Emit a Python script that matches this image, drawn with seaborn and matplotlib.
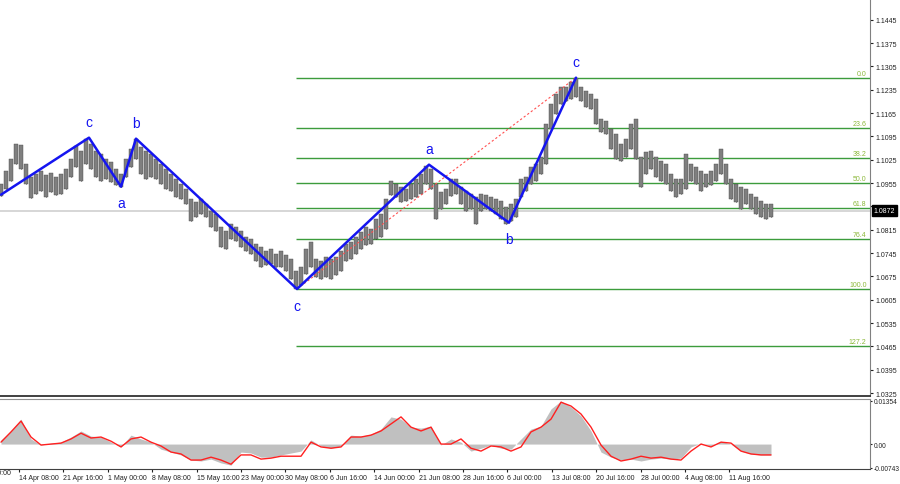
import numpy as np
import pandas as pd
import matplotlib
matplotlib.use('Agg')
import matplotlib.pyplot as plt
import matplotlib.transforms as mtransforms
import seaborn as sns

# price bars, one bar per ~5px column (high / low)
highs = [
    1.0952, 1.0991, 1.1027, 1.1072, 1.1069, 1.1012, 1.0973, 1.0982, 1.0991, 1.0979,
    1.0985, 1.0973, 1.0982, 1.0997, 1.1027, 1.1066, 1.1051, 1.1087, 1.1072, 1.1051,
    1.1042, 1.1027, 1.1018, 1.0997, 1.0982, 1.1027, 1.1057, 1.1087, 1.1063, 1.1051,
    1.1042, 1.1027, 1.1012, 1.0997, 1.0982, 1.0967, 1.0952, 1.0937, 1.0907, 1.0898,
    1.0907, 1.0892, 1.0871, 1.0862, 1.0823, 1.0811, 1.0832, 1.0823, 1.0811, 1.0793,
    1.0787, 1.0772, 1.0763, 1.0751, 1.0757, 1.0742, 1.0751, 1.0739, 1.0727, 1.0691,
    1.0703, 1.0757, 1.0778, 1.0727, 1.0721, 1.0733, 1.0727, 1.0733, 1.0751, 1.0772,
    1.0778, 1.0793, 1.0808, 1.0823, 1.0817, 1.0847, 1.0862, 1.0907, 1.0961, 1.0952,
    1.0943, 1.0937, 1.0952, 1.0967, 1.0982, 1.1006, 1.0997, 1.0952, 1.0928, 1.0937,
    1.0967, 1.0967, 1.0943, 1.0931, 1.0922, 1.0913, 1.0922, 1.0919, 1.0913, 1.0907,
    1.0901, 1.0883, 1.0892, 1.0907, 1.0967, 1.0973, 1.1003, 1.1012, 1.1033, 1.1132,
    1.1192, 1.1222, 1.1243, 1.1243, 1.1258, 1.1270, 1.1243, 1.1231, 1.1222, 1.1207,
    1.1147, 1.1141, 1.1117, 1.1102, 1.1072, 1.1087, 1.1132, 1.1147, 1.1033, 1.1048,
    1.1051, 1.1033, 1.1021, 1.1012, 1.0982, 1.0967, 1.0967, 1.1042, 1.1012, 1.1003,
    1.0991, 1.0982, 1.0991, 1.1012, 1.1057, 1.1012, 1.0967, 1.0952, 1.0943, 1.0937,
    1.0922, 1.0913, 1.0901, 1.0892, 1.0892]
lows = [
    1.0916, 1.0937, 1.0961, 1.1012, 1.0997, 1.0952, 1.0910, 1.0922, 1.0931, 1.0913,
    1.0928, 1.0919, 1.0922, 1.0937, 1.0973, 1.1003, 1.0961, 1.1012, 1.0997, 1.0973,
    1.0961, 1.0967, 1.0958, 1.0949, 1.0943, 1.0973, 1.1003, 1.1027, 1.0982, 1.0967,
    1.0973, 1.0967, 1.0952, 1.0937, 1.0931, 1.0913, 1.0907, 1.0892, 1.0841, 1.0853,
    1.0862, 1.0853, 1.0823, 1.0811, 1.0763, 1.0757, 1.0787, 1.0781, 1.0763, 1.0751,
    1.0742, 1.0721, 1.0703, 1.0709, 1.0712, 1.0703, 1.0703, 1.0691, 1.0667, 1.0637,
    1.0649, 1.0682, 1.0703, 1.0673, 1.0667, 1.0673, 1.0667, 1.0679, 1.0691, 1.0721,
    1.0727, 1.0742, 1.0757, 1.0769, 1.0772, 1.0787, 1.0793, 1.0817, 1.0919, 1.0913,
    1.0898, 1.0901, 1.0907, 1.0913, 1.0922, 1.0952, 1.0937, 1.0847, 1.0877, 1.0892,
    1.0916, 1.0922, 1.0892, 1.0871, 1.0877, 1.0832, 1.0871, 1.0877, 1.0871, 1.0862,
    1.0847, 1.0832, 1.0841, 1.0853, 1.0913, 1.0931, 1.0952, 1.0961, 1.0982, 1.1012,
    1.1117, 1.1162, 1.1192, 1.1201, 1.1207, 1.1213, 1.1201, 1.1183, 1.1177, 1.1132,
    1.1108, 1.1102, 1.1057, 1.1027, 1.1021, 1.1033, 1.1057, 1.1027, 1.0943, 1.0982,
    1.0997, 1.0973, 1.0961, 1.0952, 1.0931, 1.0913, 1.0922, 1.0937, 1.0961, 1.0952,
    1.0931, 1.0943, 1.0949, 1.0961, 1.0982, 1.0952, 1.0907, 1.0898, 1.0877, 1.0892,
    1.0877, 1.0862, 1.0853, 1.0847, 1.0853]

# MACD (histogram + signal), one value every second bar
macd_hist = [
    0.0013, 0.0041, 0.0078, 0.0016, -0.0003, 0.0003, 0.0006, 0.0022, 0.0041, 0.0025,
    0.0022, 0.0006, -0.0009, 0.0028, 0.0016, 0.0006, -0.0016, -0.0025, -0.0034, -0.0050,
    -0.0053, -0.0047, -0.0059, -0.0066, -0.0025, -0.0028, -0.0041, -0.0041, -0.0034, -0.0028,
    -0.0022, 0.0013, -0.0006, -0.0013, -0.0006, 0.0028, 0.0025, 0.0031, 0.0047, 0.0085,
    0.0078, 0.0053, 0.0050, 0.0056, -0.0003, 0.0016, 0.0006, -0.0022, -0.0013, -0.0003,
    -0.0013, -0.0016, 0.0016, 0.0047, 0.0056, 0.0110, 0.0135, 0.0116, 0.0088, 0.0041,
    -0.0025, -0.0041, -0.0050, -0.0047, -0.0053, -0.0047, -0.0044, -0.0047, -0.0044, -0.0009,
    0.0003, -0.0006, 0.0009, 0.0000, -0.0022, -0.0031, -0.0034, -0.0034]
macd_signal = [
    0.0006, 0.0038, 0.0072, 0.0022, -0.0003, 0.0000, 0.0003, 0.0016, 0.0034, 0.0019,
    0.0022, 0.0009, -0.0009, 0.0016, 0.0022, 0.0006, -0.0006, -0.0025, -0.0031, -0.0050,
    -0.0050, -0.0041, -0.0050, -0.0063, -0.0034, -0.0034, -0.0047, -0.0044, -0.0038, -0.0038,
    -0.0038, 0.0006, -0.0009, -0.0013, -0.0009, 0.0022, 0.0022, 0.0028, 0.0041, 0.0063,
    0.0085, 0.0053, 0.0041, 0.0053, 0.0000, 0.0000, 0.0016, -0.0013, -0.0022, -0.0006,
    -0.0009, -0.0022, -0.0009, 0.0038, 0.0053, 0.0078, 0.0131, 0.0119, 0.0094, 0.0053,
    -0.0003, -0.0038, -0.0053, -0.0047, -0.0038, -0.0044, -0.0041, -0.0047, -0.0050, -0.0022,
    0.0000, -0.0009, 0.0006, 0.0003, -0.0022, -0.0031, -0.0034, -0.0034]

# wave pivots (bar position, price) and their labels
wave_x = [0, 17.6, 24, 27, 59.2, 85.6, 101.6, 115]
wave_y = [1.0920, 1.1091, 1.0944, 1.1088, 1.0637, 1.1010, 1.0836, 1.1271]
wave_labels = ['', 'c', 'a', 'b', 'c', 'a', 'b', 'c']
wave_label_up = [True, True, False, True, False, True, False, True]

# fibonacci retracement of the last swing
fib_levels = [0.0, 23.6, 38.2, 50.0, 61.8, 76.4, 100.0, 127.2]
fib_high = 1.1271
fib_low = 1.0637
fib_start = 59

last_price = 1.0872
date_labels = ['7 Apr 00:00', '14 Apr 08:00', '21 Apr 16:00', '1 May 00:00', '8 May 08:00',
               '15 May 16:00', '23 May 00:00', '30 May 08:00', '6 Jun 16:00', '14 Jun 00:00',
               '21 Jun 08:00', '28 Jun 16:00', '6 Jul 00:00', '13 Jul 08:00', '20 Jul 16:00',
               '28 Jul 00:00', '4 Aug 08:00', '11 Aug 16:00']

sns.set_style('white')
plt.rcParams['font.family'] = ['Liberation Sans', 'DejaVu Sans']

fig = plt.figure(figsize=(9, 4.85), dpi=100)
ax = fig.add_axes([0, 1 - 397 / 485, 870 / 900, 397 / 485])
axm = fig.add_axes([0, 15 / 485, 870 / 900, 70 / 485])
blend = mtransforms.blended_transform_factory(ax.transAxes, ax.transData)

bars = pd.DataFrame({'bar': np.arange(len(highs)), 'high': highs, 'low': lows})

# current price line
ax.axhline(last_price, color='#d0d0d0', lw=1.2, zorder=1)

# fib levels
for lvl in fib_levels:
    p = fib_high - (fib_high - fib_low) * lvl / 100
    ax.hlines(p, fib_start, 200, color='#3c9c3c', lw=1.0, zorder=2)
    ax.text(0.996, p + 0.0003, f'{lvl:.1f}', transform=blend,
            ha='right', va='bottom', fontsize=5, color='#8cb83a', zorder=6)

# candles
ax.vlines(bars['bar'], bars['low'], bars['high'], color='#1e1e1e', lw=0.6, zorder=3)
ax.bar(bars['bar'], bars['high'] - bars['low'], bottom=bars['low'], width=0.62,
       color='#7f7f7f', edgecolor='#4a4a4a', linewidth=0.3, zorder=3)

# trend line of the fib tool
ax.plot([wave_x[4], wave_x[7]], [fib_low, fib_high], color='#ff5050', lw=0.8,
        linestyle=(0, (2, 2)), zorder=4)

# waves
waves = pd.DataFrame({'x': wave_x, 'y': wave_y})
sns.lineplot(data=waves, x='x', y='y', sort=False, estimator=None, color='#1515f0', lw=1.8, ax=ax, zorder=5)
for x, y, lab, up in zip(wave_x, wave_y, wave_labels, wave_label_up):
    if lab:
        ax.annotate(lab, (x, y), xytext=(0, 11 if up else -12), textcoords='offset points',
                    ha='center', va='center', fontsize=10, color='#1515f0')

ax.set_xlim(-0.2, 173.8)
ax.set_ylim(1.0316, 1.1507)
price_ticks = np.arange(1.0325, 1.1450, 0.007)
ax.yaxis.tick_right()
ax.set_yticks(price_ticks)
ax.set_yticklabels([f'{v:.4f}' for v in price_ticks])
ax.text(1.0, 1.1515, '- 1.1515', transform=blend,
        ha='left', va='center', fontsize=5, color='#222222', clip_on=False)
ax.tick_params(axis='y', labelsize=5, length=2, pad=2, colors='#222222', right=True, direction='out')
ax.set_xticks([])
ax.set_xlabel('')
ax.set_ylabel('')
for s in ['left', 'top']:
    ax.spines[s].set_visible(False)
ax.spines['right'].set_color('#808080')
ax.spines['bottom'].set_color('#202020')
ax.spines['bottom'].set_linewidth(1.2)

# last price box
ax.text(1.004, last_price, f'{last_price:.4f}', transform=blend,
        ha='left', va='center', fontsize=5, color='white', clip_on=False, zorder=10,
        bbox=dict(boxstyle='square,pad=0.25', fc='black', ec='black'))

# MACD panel
macd_x = np.arange(0, len(highs), 2)
axm.fill_between(macd_x, 0, macd_hist, color='#c0c0c0', linewidth=0, zorder=2)
sns.lineplot(x=macd_x, y=macd_signal, color='#ff2020', lw=1.0, ax=axm, zorder=3)
axm.set_xlim(-0.2, 173.8)
axm.set_ylim(-0.0078, 0.0141)
axm.yaxis.tick_right()
axm.set_yticks([0.01354, 0.0, -0.00743])
axm.set_yticklabels(['0.01354', '0.00', '-0.00743'])
axm.tick_params(axis='y', labelsize=4.8, length=1.5, pad=1, colors='#222222', right=True, direction='out')

tick_pos = -5.28 + 8.88 * np.arange(len(date_labels))
axm.set_xticks(tick_pos[1:])
axm.set_xticklabels(date_labels[1:])
axm.tick_params(axis='x', labelsize=5, length=2, pad=1.5, colors='#222222', bottom=True, direction='out')
for lbl in axm.get_xticklabels():
    lbl.set_ha('left')
axm.text(tick_pos[0], -0.0078, date_labels[0], ha='left', va='top', fontsize=5, color='#222222',
         clip_on=False, transform=axm.transData)
axm.set_xlabel('')
axm.set_ylabel('')
axm.spines['left'].set_visible(False)
axm.spines['top'].set_color('#909090')
axm.spines['right'].set_color('#808080')
axm.spines['bottom'].set_color('#404040')

fig.savefig('out.png', dpi=100)
